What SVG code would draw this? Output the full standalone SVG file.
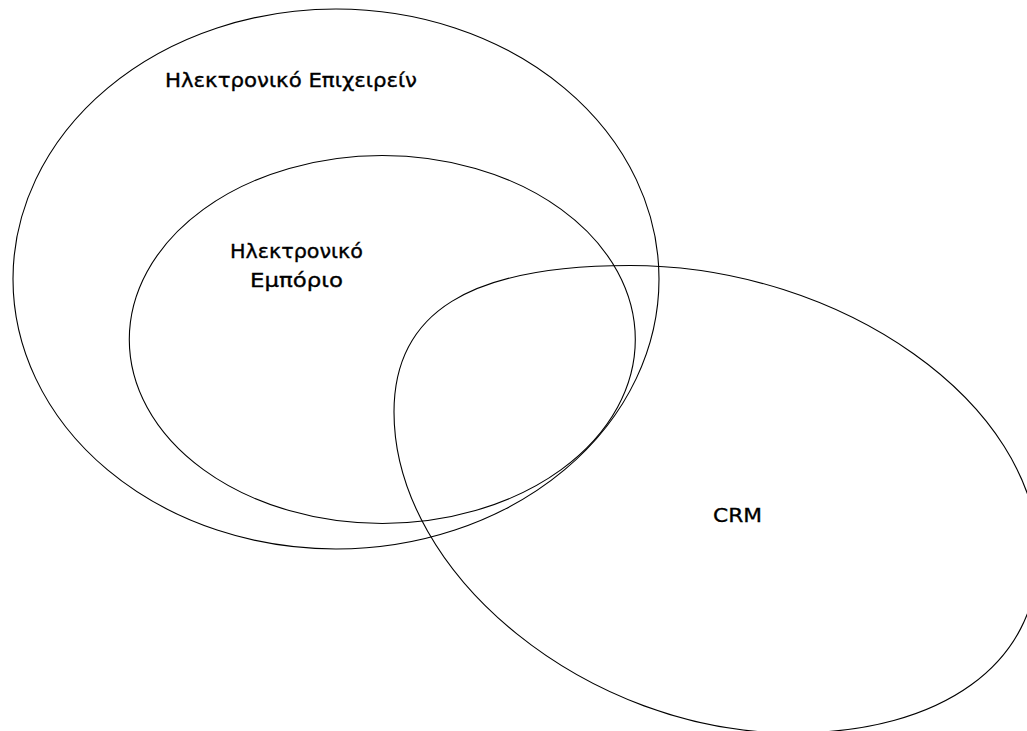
<svg xmlns="http://www.w3.org/2000/svg" width="1027" height="731" viewBox="0 0 1027 731">
  <style>
    .shape { fill: none; stroke: #000; stroke-width: 1.1; }
    .label { font-family: "DejaVu Sans", "Liberation Sans", Arial, sans-serif; font-size: 20px; fill: #000; stroke: #000; stroke-width: 0.35; text-anchor: middle; }
  </style>
  <rect x="0" y="0" width="1027" height="731" fill="#fff"/>
  <g id="e-business">
    <ellipse class="shape" cx="336" cy="279" rx="323" ry="270"/>
    <text class="label" x="291" y="86.5" textLength="252" lengthAdjust="spacingAndGlyphs">Ηλεκτρονικό Επιχειρείν</text>
  </g>
  <g id="e-commerce">
    <ellipse class="shape" cx="382.3" cy="339.5" rx="253" ry="184"/>
    <text class="label" x="296.5" y="258.3" textLength="133" lengthAdjust="spacingAndGlyphs">Ηλεκτρονικό</text>
    <text class="label" x="296.5" y="286.7" textLength="93" lengthAdjust="spacingAndGlyphs">Εμπόριο</text>
  </g>
  <g id="crm">
    <path class="shape" d="M394,412 C394,312.4 469.5,265.5 630,265.5 C842.2,265.5 1038,404.5 1038,555 C1038,663.6 942.1,733 792,733 C589,733 394,575.7 394,412 Z"/>
    <text class="label" x="737.5" y="521.7" textLength="49" lengthAdjust="spacingAndGlyphs">CRM</text>
  </g>
  <g id="connectors"/>
</svg>
